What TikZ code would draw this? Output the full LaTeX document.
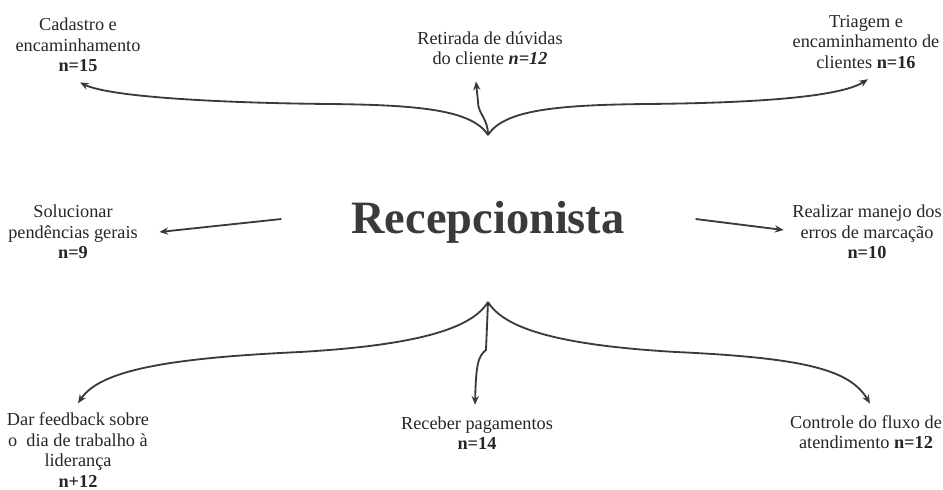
\documentclass[tikz,border=0pt]{standalone}
\usepackage{fontspec}
\setmainfont{Liberation Serif}
\usetikzlibrary{arrows.meta, calc}
\definecolor{inkgray}{HTML}{3A3A3A}
\tikzset{
	task/.style={align=center, font=\fontsize{13}{14.5}\selectfont, text=black!85, inner sep=1pt},
	title/.style={font=\fontsize{33}{36}\selectfont\bfseries, text=inkgray},
	conn/.style={draw=inkgray, line width=1.3pt, -{Stealth[length=2.2mm, width=1.8mm]}}
}

\begin{document}
\begin{tikzpicture}[x=0.025cm, y=-0.025cm]
	\useasboundingbox (0,0) rectangle (943,489);
	% central role
	\node[title] (recep) at (488,222) {Recepcionista};
	\coordinate (tophub) at (488,135);
	\coordinate (bothub) at (488,302);
	
	% upper tasks
	\node[task] (cad) at (78,45) {Cadastro e\\encaminhamento\\\textbf{n=15}};
	\node[task] (ret) at (490,48) {Retirada de dúvidas\\do cliente \textbf{\textit{n=12}}};
	\node[task] (tri) at (866,42) {Triagem e\\encaminhamento de\\clientes \textbf{n=16}};
	
	% side tasks
	\node[task] (sol) at (73,232) {Solucionar\\pendências gerais\\\textbf{n=9}};
	\node[task] (rea) at (867,232) {Realizar manejo dos\\erros de marcação\\\textbf{n=10}};
	
	% lower tasks
	\node[task] (fdb) at (78,450) {Dar feedback sobre\\o\ \ dia de trabalho à\\liderança\\\textbf{n+12}};
	\node[task] (rec) at (477,433) {Receber pagamentos\\\textbf{n=14}};
	\node[task] (ctl) at (866,432) {Controle do fluxo de\\atendimento \textbf{n=12}};
	
	% upper brace
	\draw[conn] (tophub) .. controls (472,110) and (420,105) .. (330,104) .. controls (220,103) and (110,97) .. ($(cad.south)+(2,9)$);
	\draw[conn] (tophub) .. controls (504,110) and (556,105) .. (646,104) .. controls (756,103) and (840,97) .. ($(tri.south)+(2,9)$);
	\draw[conn] (tophub) .. controls (488,118) and (478,114) .. (478,102) -- ($(ret.south)+(-14,15)$);
	
	% side arrows
	\draw[conn] ($(recep.west)+(-65,-3)$) -- ($(sol.east)+(20,0)$);
	\draw[conn] ($(recep.east)+(66,-3)$) -- ($(rea.west)+(-7,-2)$);
	
	% lower brace
	\draw[conn] (bothub) .. controls (472,328) and (420,345) .. (300,352) .. controls (170,358) and (100,370) .. ($(fdb.north)+(0,-8)$);
	\draw[conn] (bothub) .. controls (504,328) and (556,345) .. (676,352) .. controls (806,358) and (850,370) .. ($(ctl.north)+(4,-10)$);
	\draw[conn] (bothub) -- (486,350) .. controls (478,356) and (476,365) .. ($(rec.north)+(-2,-10)$);
\end{tikzpicture}
\end{document}
